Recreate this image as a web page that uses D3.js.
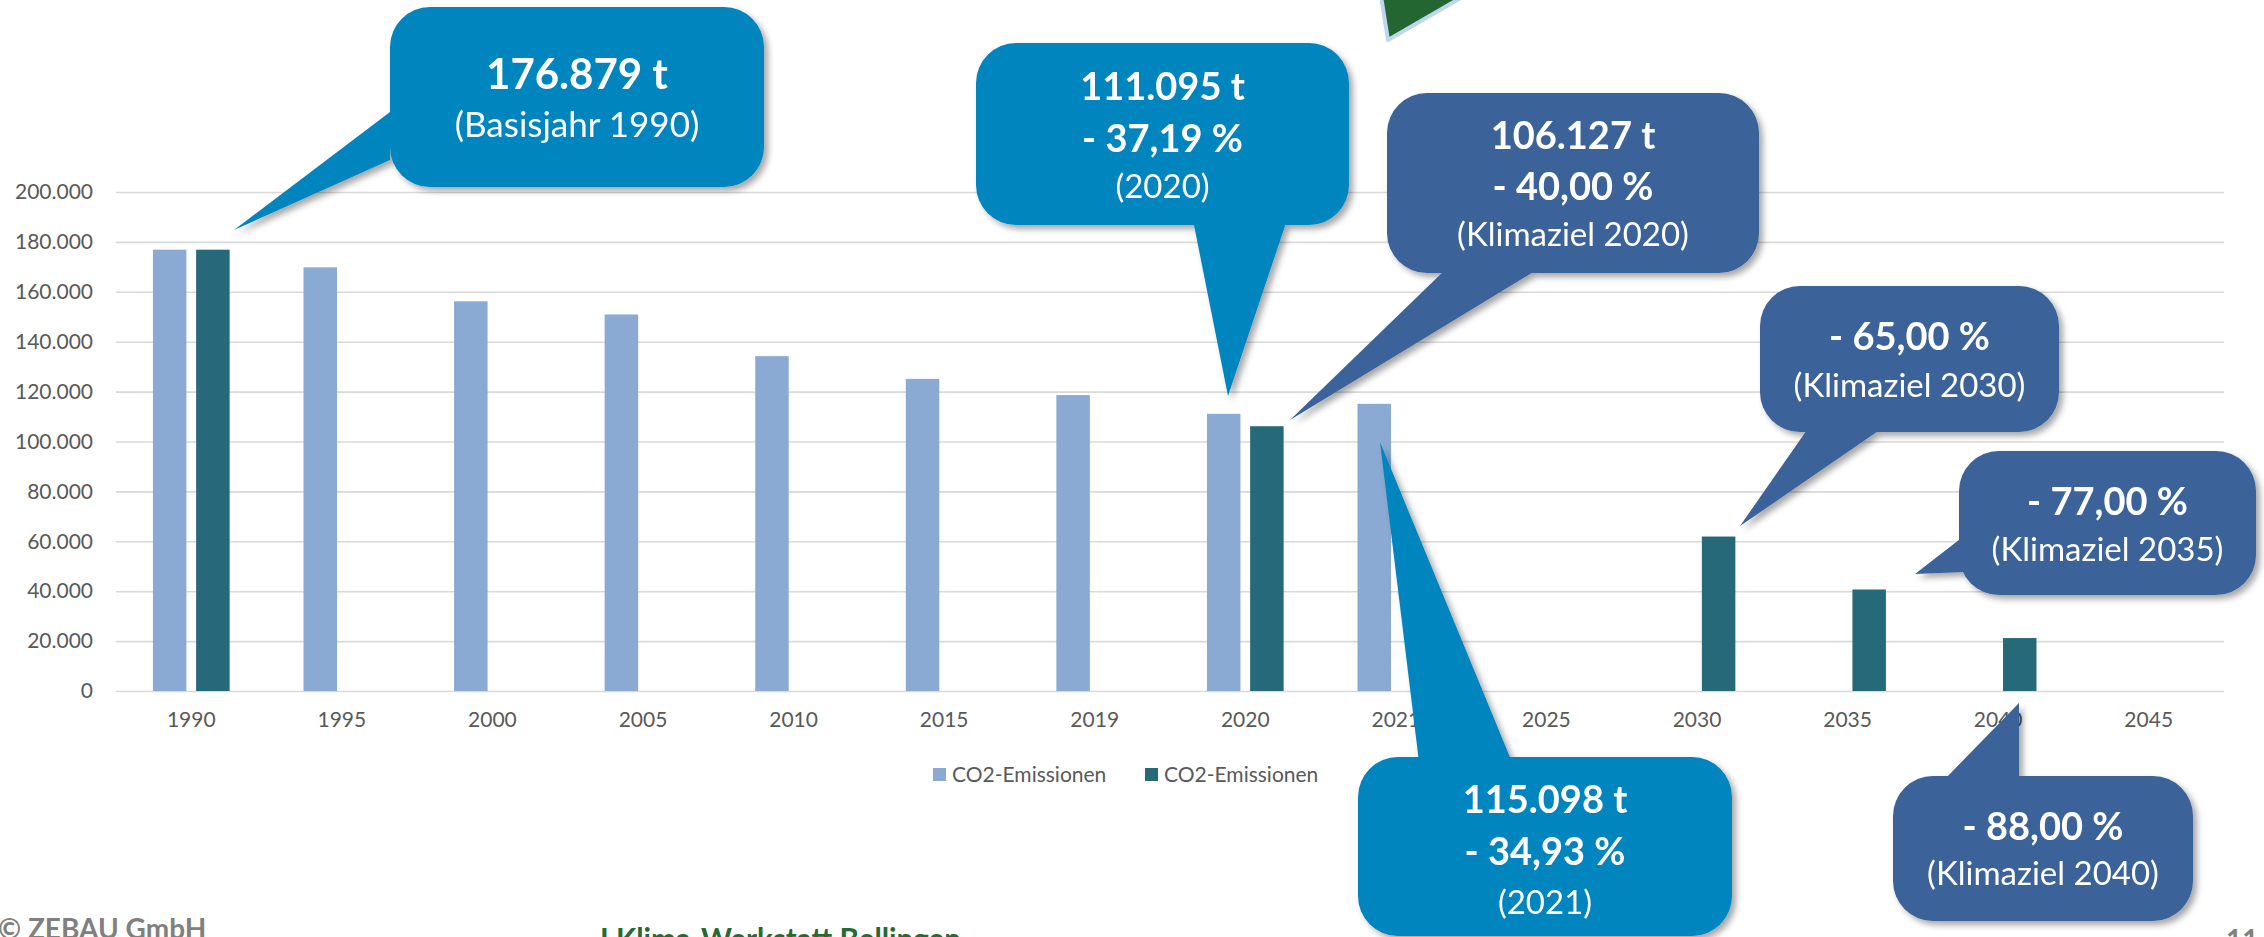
<!doctype html>
<html>
<head>
<meta charset='utf-8'>
<style>
  body { margin: 0; background: #fff; }
  svg { display: block; font-family: Lato, 'Open Sans', sans-serif; }
</style>
</head>
<body>
<div id='chart'></div>
<script src='https://cdn.jsdelivr.net/npm/d3@7'></script>
<script>

// data
const years = ['1990','1995','2000','2005','2010','2015','2019','2020','2021','2025','2030','2035','2040','2045'];
const emissions = [176879, 169800, 156200, 150900, 134200, 125100, 118600, 111095, 115098, null, null, null, null, null];
const targets   = [176879, null, null, null, null, null, null, 106127, null, null, 61908, 40682, 21225, null];
const seriesNames = ['CO2-Emissionen', 'CO2-Emissionen'];
const yTicks = [0, 20000, 40000, 60000, 80000, 100000, 120000, 140000, 160000, 180000, 200000];

const colors = { light: '#8AAAD3', dark: '#266978', boxLight: '#0085BE', boxDark: '#3B6399' };

// speech bubbles (layout only): box, tail polygon, text lines [text, bold, baseline]
const callouts = [
  { fill: colors.boxLight, size: [42, 35], box: [390, 7, 374, 180], tail: [[390,112],[234,230],[390,160]],
    lines: [['176.879 t', true, 89], ['(Basisjahr 1990)', false, 137]] },
  { fill: colors.boxLight, size: [38, 33], box: [976, 43, 373, 182], tail: [[1193,220],[1228,396],[1287,220]],
    lines: [['111.095 t', true, 100], ['- 37,19 %', true, 152], ['(2020)', false, 198]] },
  { fill: colors.boxDark, size: [38, 33], box: [1387, 93, 372, 180], tail: [[1447,268],[1290,420],[1540,268]],
    lines: [['106.127 t', true, 149], ['- 40,00 %', true, 200], ['(Klimaziel 2020)', false, 246]] },
  { fill: colors.boxDark, size: [38, 33], box: [1760, 286, 299, 146], tail: [[1809,427],[1740,526],[1884,427]],
    lines: [['- 65,00 %', true, 350], ['(Klimaziel 2030)', false, 397]] },
  { fill: colors.boxDark, size: [38, 33], box: [1959, 451, 297, 144], tail: [[1964,536],[1915,574],[1964,572]],
    lines: [['- 77,00 %', true, 515], ['(Klimaziel 2035)', false, 561]] },
  { fill: colors.boxLight, size: [38, 33], box: [1358, 757, 374, 179], tail: [[1419,762],[1380,442],[1512,762]],
    lines: [['115.098 t', true, 813], ['- 34,93 %', true, 865], ['(2021)', false, 914]] },
  { fill: colors.boxDark, size: [38, 33], box: [1893, 776, 300, 145], tail: [[1943,781],[2019,703],[2019,781]],
    lines: [['- 88,00 %', true, 840], ['(Klimaziel 2040)', false, 885]] }
];

const W = 2264, H = 937;
const plot = { l: 116, r: 2224, t: 192, b: 691 };

const svg = d3.select('#chart').append('svg')
  .attr('width', W)
  .attr('height', H);

const defs = svg.append('defs');
const shadow = defs.append('filter').attr('id', 'shadow')
  .attr('x', '-20%').attr('y', '-20%').attr('width', '140%').attr('height', '140%');
shadow.append('feDropShadow')
  .attr('dx', 4).attr('dy', 4).attr('stdDeviation', 3)
  .attr('flood-color', '#000').attr('flood-opacity', 0.35);

const x = d3.scaleBand()
  .domain(years)
  .range([plot.l, plot.r])
  .padding(0);

const x1 = d3.scaleBand()
  .domain([0, 1])
  .range([0, x.bandwidth()])
  .paddingInner(0.2245)
  .paddingOuter(0.855);

const y = d3.scaleLinear()
  .domain([0, 200000])
  .range([plot.b, plot.t]);

const de = d3.formatLocale({ decimal: ',', thousands: '.', grouping: [3], currency: ['', ' €'] });
const fmt = de.format(',d');

// gridlines + y labels
const yAxis = svg.append('g')
  .attr('transform', `translate(${plot.l},0)`)
  .call(d3.axisLeft(y).tickValues(yTicks).tickFormat(fmt).tickSize(-(plot.r - plot.l)).tickPadding(23));
yAxis.select('.domain').remove();
yAxis.selectAll('.tick line').attr('stroke', '#D9D9D9').attr('stroke-width', 1.6);
yAxis.selectAll('.tick text')
  .attr('fill', '#595959')
  .style('font-size', '21px')
  .style('font-family', 'Lato, sans-serif');

// bars
const series = [emissions, targets];
const barColors = [colors.light, colors.dark];
series.forEach(function(vals, si){
  svg.append('g').selectAll('rect')
    .data(years.map((yr, i) => ({ yr: yr, v: vals[i] })).filter(d => d.v != null))
    .enter()
    .append('rect')
    .attr('x', d => x(d.yr) + x1(si))
    .attr('width', x1.bandwidth())
    .attr('y', d => y(d.v))
    .attr('height', d => y(0) - y(d.v))
    .attr('fill', barColors[si]);
});

// x labels
const xAxis = svg.append('g')
  .attr('transform', `translate(0,${plot.b})`)
  .call(d3.axisBottom(x).tickSize(0).tickPadding(21));
xAxis.select('.domain').remove();
xAxis.selectAll('.tick text')
  .attr('fill', '#595959')
  .style('font-size', '21px')
  .style('font-family', 'Lato, sans-serif');

// legend
const legend = svg.append('g').attr('transform', 'translate(933,768)');
const legendX = [0, 212];
seriesNames.forEach(function(name, i){
  const g = legend.append('g').attr('transform', `translate(${legendX[i]},0)`);
  g.append('rect').attr('width', 13).attr('height', 13).attr('fill', barColors[i]);
  g.append('text').attr('x', 19).attr('y', 14)
    .attr('fill', '#595959')
    .style('font-size', '21px')
    .text(name);
});

// decorative triangle at top
svg.append('path')
  .attr('d', 'M1381,-4 L1388,40 L1464,-4 Z')
  .attr('fill', '#236631')
  .attr('stroke', '#BDD7EE')
  .attr('stroke-width', 4)
  .attr('stroke-linejoin', 'round');

// callouts
const cg = svg.append('g').selectAll('g.callout')
  .data(callouts)
  .enter()
  .append('g')
  .attr('class', 'callout')
  .attr('filter', 'url(#shadow)');

cg.append('rect')
  .attr('x', d => d.box[0]).attr('y', d => d.box[1])
  .attr('width', d => d.box[2]).attr('height', d => d.box[3])
  .attr('rx', 40).attr('ry', 40)
  .attr('fill', d => d.fill);
cg.append('path')
  .attr('d', d => 'M' + d.tail.join('L') + 'Z')
  .attr('fill', d => d.fill);

cg.each(function(d){
  const g = d3.select(this);
  const cx = d.box[0] + d.box[2] / 2;
  d.lines.forEach(function(l){
    g.append('text')
      .attr('x', cx).attr('y', l[2])
      .attr('text-anchor', 'middle')
      .attr('fill', '#fff')
      .style('font-size', (l[1] ? d.size[0] : d.size[1]) + 'px')
      .style('font-weight', l[1] ? 700 : 400)
      .text(l[0]);
  });
});

// footer
svg.append('text').attr('x', -2).attr('y', 939)
  .attr('fill', '#808080').style('font-size', '28px').style('font-weight', 700)
  .text('© ZEBAU GmbH');
svg.append('text').attr('x', 600).attr('y', 950)
  .attr('fill', '#236B30').style('font-size', '29.5px').style('font-weight', 700)
  .text('I Klima-Werkstatt Bellingen');
svg.append('text').attr('x', 2226).attr('y', 950)
  .attr('fill', '#808080').style('font-size', '28px').style('font-weight', 700)
  .text('11');

</script>
</body>
</html>
